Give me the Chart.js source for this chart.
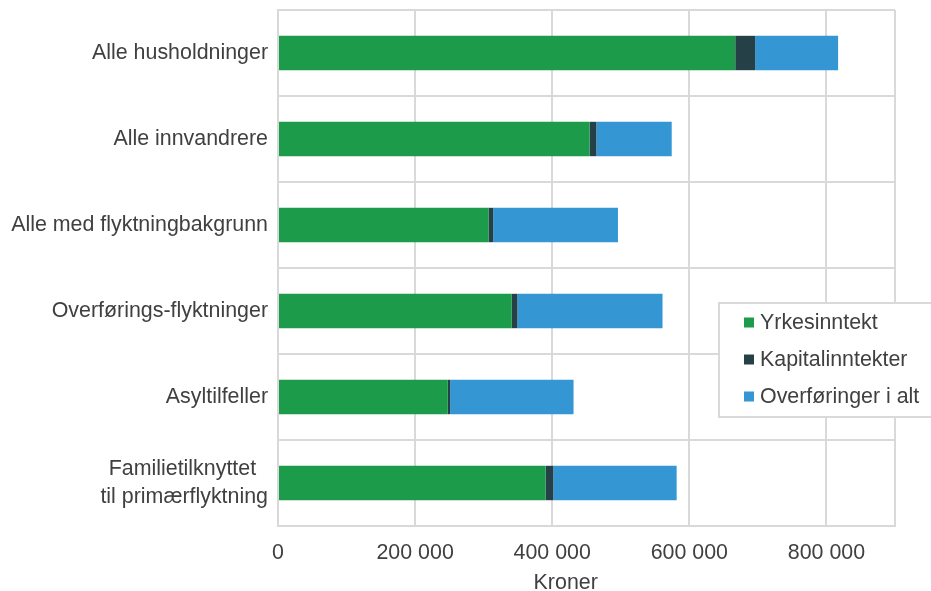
<!DOCTYPE html>
<html>
<head>
<meta charset="utf-8">
<script src="https://cdn.jsdelivr.net/npm/chart.js@4/dist/chart.umd.min.js"></script>
<style>
  html, body { margin: 0; padding: 0; background: #fff; }
  canvas { display: block; }
</style>
</head>
<body>
<canvas id="chart" width="931" height="591"></canvas>
<script>
// data
const categories = [
    "Alle husholdninger",
    "Alle innvandrere",
    "Alle med flyktningbakgrunn",
    "Overførings-flyktninger",
    "Asyltilfeller",
    ["Familietilknyttet  ", "til primærflyktning"]
];
const yrkesinntekt = [667000, 454500, 307000, 341000, 247700, 390400];
const kapitalinntekter = [29000, 9800, 6900, 8200, 3400, 11200];
const overforinger = [121000, 110000, 182000, 211700, 180000, 179900];
const xTicks = [0, 200000, 400000, 600000, 800000];

const FONT = "'Liberation Sans', Arial, sans-serif";
const SIZE = 21.4;
const TEXT = "#404040";
const GRID = "#d9d9d9";

function fmt(v) {
    return String(v).replace(/\B(?=(\d{3})+(?!\d))/g, " ");
}

// legend box inside the plot, drawn over the grid
const boxLegend = {
    id: "boxLegend",
    afterDraw(chart) {
        let ctx = chart.ctx;
        let x = 719, y = 303, w = 230, h = 114;
        ctx.save();
        ctx.fillStyle = "#fff";
        ctx.fillRect(x, y, w, h);
        ctx.strokeStyle = GRID;
        ctx.lineWidth = 2;
        ctx.strokeRect(x, y, w, h);
        ctx.font = SIZE + "px " + FONT;
        ctx.textBaseline = "middle";
        chart.data.datasets.forEach((ds, i) => {
            let cy = 322.5 + i * 37;
            ctx.fillStyle = ds.backgroundColor;
            ctx.fillRect(744, cy - 5, 10, 10);
            ctx.fillStyle = TEXT;
            ctx.fillText(ds.label, 760, cy + 1);
        });
        ctx.restore();
    }
};

let chartContext = document.getElementById("chart").getContext("2d");
new Chart(chartContext, {
    type: "bar",
    data: {
        labels: categories,
        datasets: [
            { label: "Yrkesinntekt", data: yrkesinntekt, backgroundColor: "#1c9c4a" },
            { label: "Kapitalinntekter", data: kapitalinntekter, backgroundColor: "#264048" },
            { label: "Overføringer i alt", data: overforinger, backgroundColor: "#3496d3" }
        ]
    },
    options: {
        indexAxis: "y",
        responsive: false,
        animation: false,
        devicePixelRatio: 1,
        categoryPercentage: 1,
        barPercentage: 0.4,
        layout: { padding: { top: 10, right: 36, left: 0, bottom: 0 } },
        plugins: {
            legend: { display: false },
            tooltip: { enabled: false }
        },
        scales: {
            x: {
                stacked: true,
                min: 0,
                max: 900000,
                afterBuildTicks: axis => {
                    axis.ticks = xTicks.concat([900000]).map(v => ({ value: v }));
                },
                ticks: {
                    color: TEXT,
                    font: { family: FONT, size: SIZE },
                    padding: 14,
                    maxRotation: 0,
                    callback: v => v === 900000 ? "" : fmt(v)
                },
                grid: { color: GRID, lineWidth: 2, drawTicks: false },
                border: { color: GRID, width: 2 },
                title: {
                    display: true,
                    text: "Kroner       ",
                    color: TEXT,
                    font: { family: FONT, size: SIZE },
                    padding: { top: 4, bottom: -5 }
                },
                afterFit: scale => { scale.height = 65; }
            },
            y: {
                stacked: true,
                ticks: {
                    color: TEXT,
                    font: { family: FONT, size: SIZE, lineHeight: 1.28 },
                    padding: 10
                },
                grid: { color: GRID, lineWidth: 2, drawTicks: false, offset: true },
                border: { color: GRID, width: 2 },
                afterFit: scale => {
                    scale.width = 278;
                    scale.paddingTop = 0;
                    scale.paddingBottom = 0;
                }
            }
        }
    },
    plugins: [boxLegend]
});
</script>
</body>
</html>
